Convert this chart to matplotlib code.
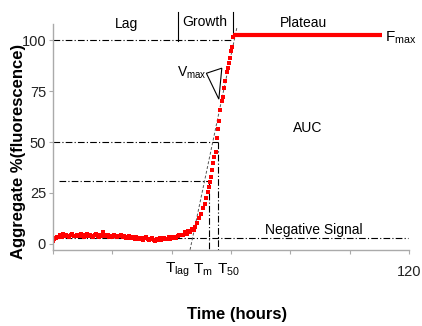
import numpy as np
import matplotlib.pyplot as plt

plt.rcParams['font.family'] = ['Liberation Sans', 'DejaVu Sans']
plt.rcParams['mathtext.fontset'] = 'custom'
plt.rcParams['mathtext.rm'] = 'Liberation Sans'

# Lag phase readings, every half hour (h, %)
lag_t = np.arange(0, 43.5, 0.5)
lag_v = [1.5, 2.5, 3.0, 3.6, 3.2, 4.4, 3.6, 4.8, 3.8, 4.5, 4.0, 3.3, 4.3, 5.0, 3.9, 4.1,
         4.6, 3.8, 4.0, 4.9, 4.2, 3.4, 4.1, 4.7, 3.9, 4.3, 4.0, 3.3, 4.2, 4.8, 4.1, 3.5,
         4.4, 4.0, 5.6, 4.6, 3.9, 4.2, 3.6, 4.1, 3.4, 4.3, 3.9, 3.3, 4.0, 3.7, 4.4, 3.2,
         3.8, 3.0, 3.6, 3.9, 3.1, 3.0, 3.5, 2.6, 3.2, 2.4, 3.0, 2.2, 2.9, 2.0, 2.7, 3.4,
         2.3, 1.8, 2.6, 3.1, 2.1, 1.6, 2.5, 2.1, 2.8, 1.9, 2.4, 2.9, 2.2, 2.6, 3.2, 2.5,
         3.3, 2.7, 3.6, 3.0, 3.8, 4.3, 4.6]

# Growth phase readings (h, %)
grow_t = [43.8, 44.4, 45.0, 45.6, 46.2, 46.8, 47.4, 47.9, 48.5, 49.2, 49.9, 50.6, 51.1,
          51.6, 52.2, 52.6, 52.9, 53.3, 53.6, 54.0, 54.3, 54.8, 55.3, 55.6, 55.9, 56.4,
          57.0, 57.3, 57.6, 58.1, 58.6, 59.0, 59.3, 59.7, 60.0, 60.4, 60.7]
grow_v = [4.4, 5.6, 4.9, 6.3, 5.9, 7.2, 6.8, 8.3, 10.1, 12.7, 14.6, 17.6, 19.8,
          22.5, 25.3, 27.9, 30.6, 32.8, 36.2, 39.7, 42.5, 45.1, 52.0, 56.3, 60.5, 65.7,
          70.1, 72.0, 76.4, 79.9, 84.2, 86.3, 89.0, 91.2, 94.8, 96.6, 101.5]

# Plateau (Fmax)
plateau_t = [60.7, 110.9]
plateau_v = [102.5, 102.5]

# Reference levels
t_lag, t_m, t_50 = 46.2, 52.6, 55.6
v_base, v_m, v_50, v_100 = 3.0, 30.9, 50, 100
tangent_t = [46.2, 62.0]
tangent_v = [-2.9, 106.4]

x_ticks = [0, 20, 40, 60, 80, 100, 120]
x_labels = ['', '', '', '', '', '', '120']
y_ticks = [0, 25, 50, 75, 100]

fig = plt.figure(figsize=(4.22, 3.26), dpi=100, facecolor='w')
ax = fig.add_axes([0.1256, 0.2331, 0.8436, 0.6933])

dash = dict(color='black', lw=0.8, ls='-.', dashes=(6, 2, 1, 2))
# horizontal guides
ax.plot([0, 60.7], [v_100, v_100], **dash)
ax.plot([0, t_50], [v_50, v_50], **dash)
ax.plot([2, t_m], [v_m, v_m], **dash)
ax.plot([0, 119.6], [v_base, v_base], **dash)
# vertical guides
ax.plot([t_50, t_50], [v_50, -3], **dash)
ax.plot([t_m, t_m], [v_m, -3], **dash)
# tangent at Vmax
ax.plot(tangent_t, tangent_v, color='#555555', lw=0.7, ls=(0, (3, 2)))

# phase dividers
ax.plot([42.1, 42.1], [113.7, 99.5], color='black', lw=0.8, clip_on=False)
ax.plot([60.7, 60.7], [113.7, 102.5], color='black', lw=0.8, clip_on=False)

# data
ax.plot(lag_t, lag_v, 's', color='red', ms=3.2, mew=0)
ax.plot(grow_t, grow_v, 's', color='red', ms=3.4, mew=0)
ax.plot(plateau_t, plateau_v, '-', color='red', lw=3, solid_capstyle='butt')

# Vmax marker triangle
ax.fill([51.7, 56.9, 55.9], [83.8, 86.3, 71.1], facecolor='none', edgecolor='black', lw=0.8)

fs = 10
ax.text(24.9, 107.8, 'Lag', ha='center', va='center', fontsize=fs)
ax.text(51.2, 108.8, 'Growth', ha='center', va='center', fontsize=fs)
ax.text(84.6, 108.3, 'Plateau', ha='center', va='center', fontsize=fs)
ax.text(111.8, 101.5, r'F$_{\mathrm{max}}$', ha='left', va='center', fontsize=fs + 1)
ax.text(51.7, 83.8, r'V$_{\mathrm{max}}$', ha='right', va='center', fontsize=fs)
ax.text(85.9, 56.9, 'AUC', ha='center', va='center', fontsize=fs)
ax.text(88.0, 6.9, 'Negative Signal', ha='center', va='center', fontsize=fs)
ax.text(42.0, -12.7, r'T$_{\mathrm{lag}}$', ha='center', va='center', fontsize=fs + 1, clip_on=False)
ax.text(50.4, -12.7, r'T$_{\mathrm{m}}$', ha='center', va='center', fontsize=fs + 1, clip_on=False)
ax.text(59.0, -12.7, r'T$_{\mathrm{50}}$', ha='center', va='center', fontsize=fs + 1, clip_on=False)

ax.set_xlim(0, 120)
ax.set_ylim(-3, 108)
ax.set_xticks(x_ticks)
ax.set_xticklabels(x_labels, fontsize=fs + 0.5)
ax.set_yticks(y_ticks)
ax.set_yticklabels([str(v) for v in y_ticks], fontsize=fs + 0.5)
ax.tick_params(axis='both', length=3, width=0.8, color='#aaaaaa', labelcolor='#222222', pad=8)
ax.tick_params(axis='y', pad=2)
for spine in ('top', 'right'):
    ax.spines[spine].set_visible(False)
for spine in ('left', 'bottom'):
    ax.spines[spine].set_color('#aaaaaa')
    ax.spines[spine].set_linewidth(1.0)

fig.text(0.562, 0.034, 'Time (hours)', ha='center', va='center', fontsize=12, fontweight='bold')
fig.text(0.043, 0.534, 'Aggregate %(fluorescence)', ha='center', va='center', rotation=90,
         fontsize=12, fontweight='bold')

fig.savefig('out.png', dpi=100)
